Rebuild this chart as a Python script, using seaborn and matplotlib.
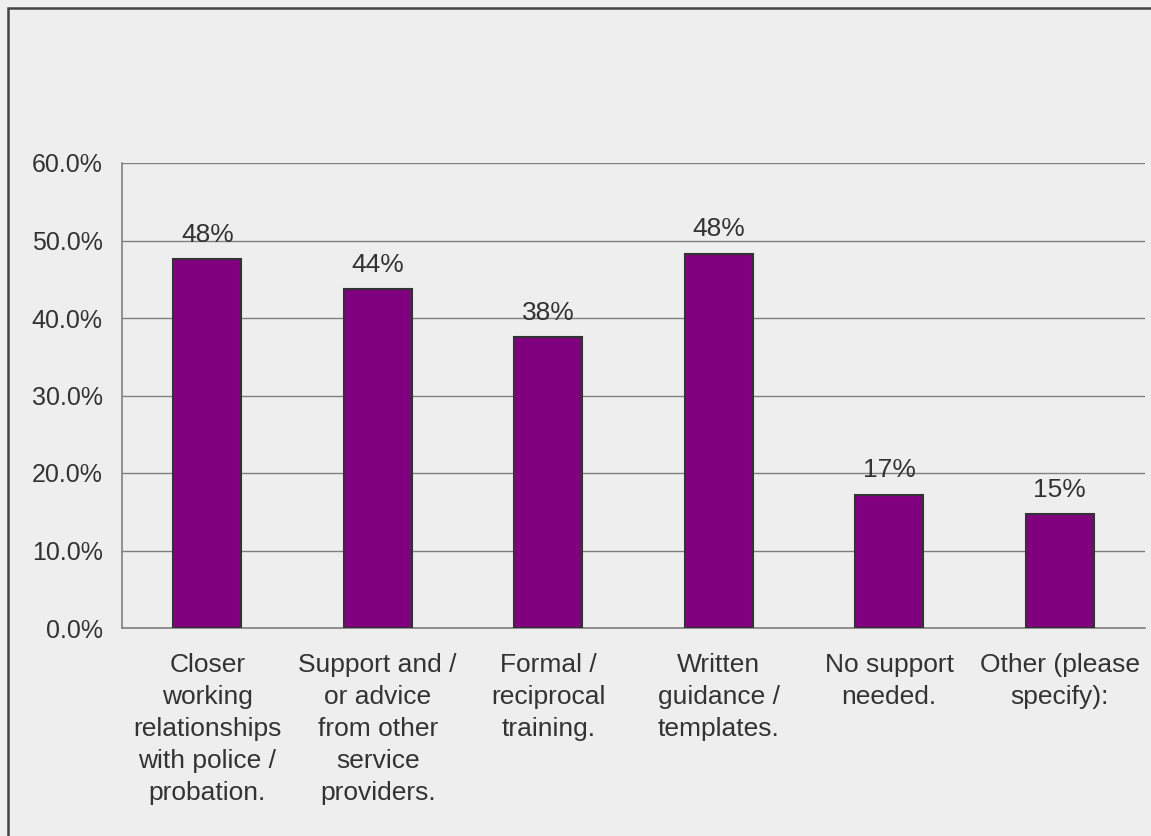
import matplotlib
matplotlib.use('Agg')
import matplotlib.pyplot as plt
import seaborn as sns
import pandas as pd
from matplotlib.patches import Rectangle
from matplotlib.ticker import FuncFormatter

# Chart data
categories = [
    'Closer\nworking\nrelationships\nwith police /\nprobation.',
    'Support and /\nor advice\nfrom other\nservice\nproviders.',
    'Formal /\nreciprocal\ntraining.',
    'Written\nguidance /\ntemplates.',
    'No support\nneeded.',
    'Other (please\nspecify):',
]
values = [47.6, 43.7, 37.5, 48.3, 17.2, 14.7]
y_ticks = [0, 10, 20, 30, 40, 50, 60]

df = pd.DataFrame({'cat': categories, 'pct': values})

bg = '#EEEEEE'
txt = '#333333'
grid = '#808080'

sns.set_style('white')
plt.rcParams['font.family'] = ['Liberation Sans', 'DejaVu Sans']

fig = plt.figure(figsize=(11.51, 8.36), dpi=100, facecolor=bg)
ax = fig.add_axes([122 / 1151, 1 - 628 / 836, (1145 - 122) / 1151, (628 - 163) / 836])
ax.set_facecolor(bg)

sns.barplot(data=df, x='cat', y='pct', color='#800080', width=0.4,
            edgecolor='#333333', linewidth=1.5, saturation=1, ax=ax, zorder=3)

ax.set_ylim(0, 60)
ax.set_xlim(-0.5, len(categories) - 0.5)
ax.set_yticks(y_ticks)
ax.yaxis.set_major_formatter(FuncFormatter(lambda v, p: f'{v:.1f}%'))
ax.yaxis.grid(True, color=grid, linewidth=1, zorder=0)
ax.set_axisbelow(True)

for s in ['top', 'right']:
    ax.spines[s].set_visible(False)
for s in ['left', 'bottom']:
    ax.spines[s].set_color(grid)
    ax.spines[s].set_linewidth(1.2)

ax.tick_params(axis='y', direction='out', length=6, color=grid, width=1,
               labelsize=18, labelcolor=txt, pad=8)
ax.tick_params(axis='x', which='major', length=0, labelsize=19, labelcolor=txt, pad=18)
ax.set_xticks(range(len(categories)))
ax.set_xticklabels(categories, linespacing=1.42)
ax.set_xticks([i - 0.5 for i in range(len(categories) + 1)], minor=True)
ax.tick_params(axis='x', which='minor', direction='out', length=7, color=grid, width=1)

ax.set_xlabel('')
ax.set_ylabel('')

for i, v in enumerate(values):
    ax.annotate(f'{round(v):.0f}%', (i, v), xytext=(0, 9), textcoords='offset points',
                ha='center', va='bottom', fontsize=19, color=txt)

# outer frame (only left/top visible in the reference)
fig.patches.append(Rectangle((8 / 1151, -0.1), 1.2, 1 - 8 / 836 + 0.1,
                             transform=fig.transFigure, fill=False,
                             edgecolor='#444444', linewidth=1.8))

fig.savefig('out.png', dpi=100, facecolor=bg)
